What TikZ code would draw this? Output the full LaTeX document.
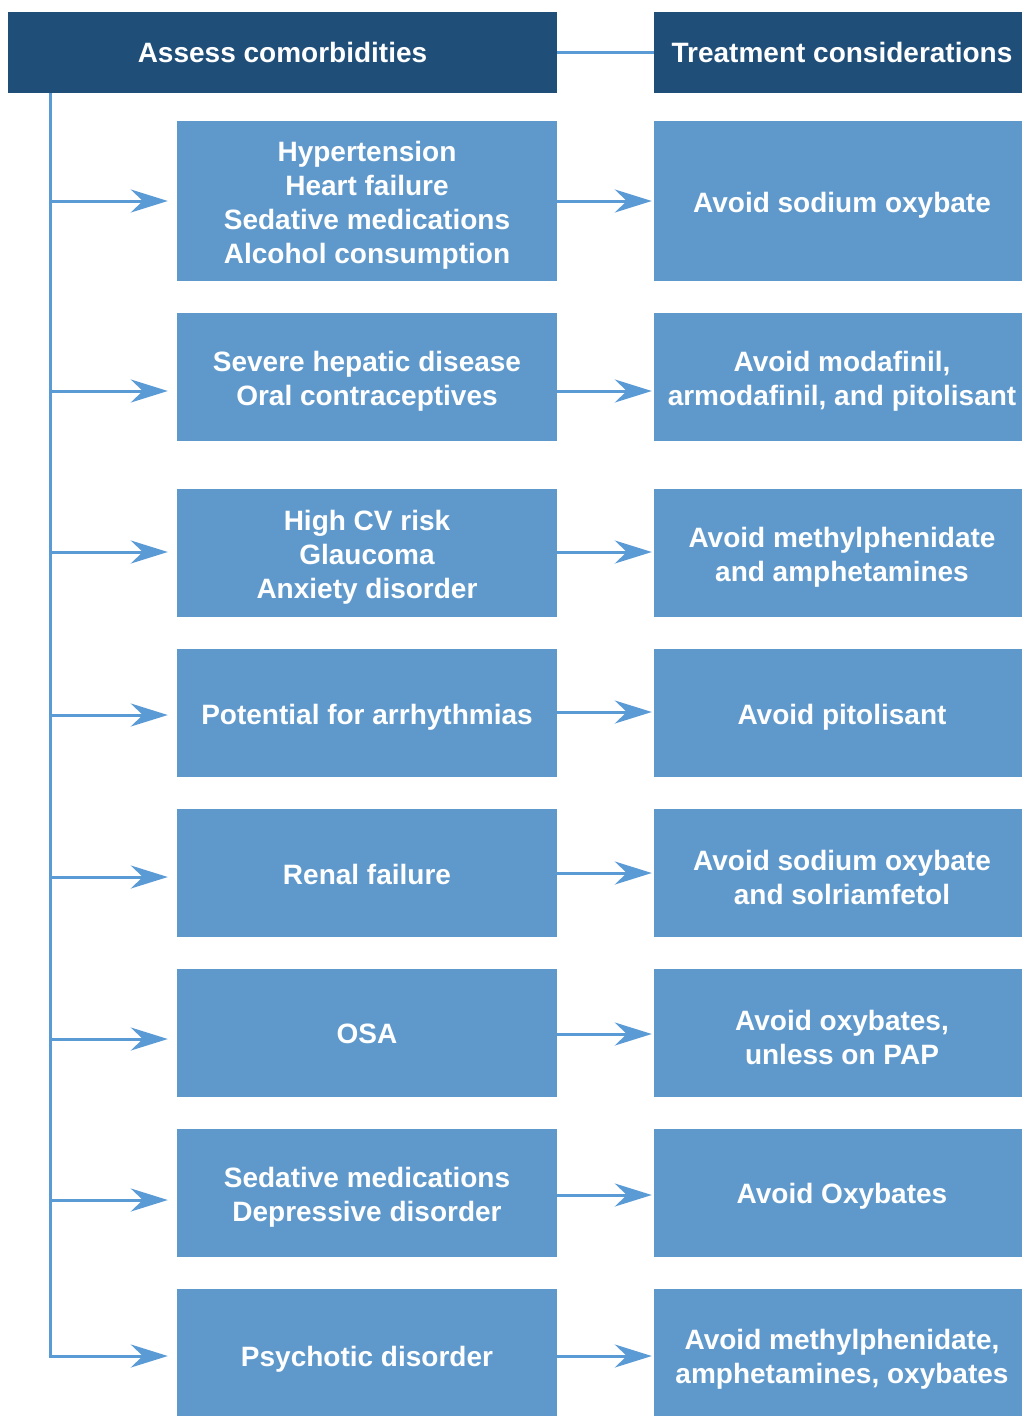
\documentclass[tikz,border=0pt]{standalone}
\usepackage{fontspec}
\setmainfont{Liberation Sans}
\usetikzlibrary{arrows.meta,calc}
\definecolor{darkb}{HTML}{1F4E79}
\definecolor{lightb}{HTML}{5F99CC}
\definecolor{lineb}{HTML}{5B9BD5}
\tikzset{
  x=1pt,y=-1pt,
  hdr/.style={fill=darkb,text=white,font=\fontsize{28}{34}\selectfont\bfseries,inner sep=0pt,minimum height=81pt,align=center},
  lbox/.style={fill=lightb,inner sep=0pt,minimum width=380pt},
  rbox/.style={fill=lightb,inner sep=0pt,minimum width=376pt},
  txt/.style={text=white,font=\fontsize{28}{34}\selectfont\bfseries,inner sep=0pt,align=center},
  conn/.style={draw=lineb,line width=3pt},
  arr/.style={conn,-{Stealth[length=37pt,width=23pt,inset=12pt]}}
}
\begin{document}
\begin{tikzpicture}
\useasboundingbox (0,0) rectangle (1022,1416);
\clip (0,0) rectangle (1022,1416);
\fill[white] (0,0) rectangle (1022,1416);
\node[hdr,minimum width=549pt] (hl) at (282.5,52.5) {Assess comorbidities};
\node[hdr,minimum width=376pt] (hr) at (842,52.5) {Treatment considerations};
% left boxes
\node[lbox,minimum height=160pt] (l1) at (367,201) {};
\node[lbox,minimum height=128pt] (l2) at (367,377) {};
\node[lbox,minimum height=128pt] (l3) at (367,553) {};
\node[lbox,minimum height=128pt] (l4) at (367,713) {};
\node[lbox,minimum height=128pt] (l5) at (367,873) {};
\node[lbox,minimum height=128pt] (l6) at (367,1033) {};
\node[lbox,minimum height=128pt] (l7) at (367,1193) {};
\node[lbox,minimum height=150pt] (l8) at (367,1364) {};
\node[txt] (l1t) at (367,205) {Hypertension\\Heart failure\\Sedative medications\\Alcohol consumption};
\node[txt] (l2t) at (367,381) {Severe hepatic disease\\Oral contraceptives};
\node[txt] (l3t) at (367,557) {High CV risk\\Glaucoma\\Anxiety disorder};
\node[txt] (l4t) at (367,717) {Potential for arrhythmias};
\node[txt] (l5t) at (367,874) {Renal failure};
\node[txt] (l6t) at (367,1034) {OSA};
\node[txt] (l7t) at (367,1197) {Sedative medications\\Depressive disorder};
\node[txt] (l8t) at (367,1359) {Psychotic disorder};
% right boxes
\node[rbox,minimum height=160pt] (r1) at (842,201) {};
\node[rbox,minimum height=128pt] (r2) at (842,377) {};
\node[rbox,minimum height=128pt] (r3) at (842,553) {};
\node[rbox,minimum height=128pt] (r4) at (842,713) {};
\node[rbox,minimum height=128pt] (r5) at (842,873) {};
\node[rbox,minimum height=128pt] (r6) at (842,1033) {};
\node[rbox,minimum height=128pt] (r7) at (842,1193) {};
\node[rbox,minimum height=150pt] (r8) at (842,1364) {};
\node[txt] (r1t) at (842,205) {Avoid sodium oxybate};
\node[txt] (r2t) at (842,381) {Avoid modafinil,\\armodafinil, and pitolisant};
\node[txt] (r3t) at (842,557) {Avoid methylphenidate\\and amphetamines};
\node[txt] (r4t) at (842,717) {Avoid pitolisant};
\node[txt] (r5t) at (842,877) {Avoid sodium oxybate\\and solriamfetol};
\node[txt] (r6t) at (842,1037) {Avoid oxybates,\\unless on PAP};
\node[txt] (r7t) at (842,1196) {Avoid Oxybates};
\node[txt] (r8t) at (842,1359) {Avoid methylphenidate,\\amphetamines, oxybates};
% trunk coordinates
\coordinate (t1) at (50,201);
\coordinate (t2) at (50,391);
\coordinate (t3) at (50,552);
\coordinate (t4) at (50,715);
\coordinate (t5) at (50,877);
\coordinate (t6) at (50,1039);
\coordinate (t7) at (50,1200);
\coordinate (t8) at (50,1356);
\coordinate (s1) at (557,201);
\coordinate (s2) at (557,391);
\coordinate (s3) at (557,552);
\coordinate (s4) at (557,712);
\coordinate (s5) at (557,873);
\coordinate (s6) at (557,1034);
\coordinate (s7) at (557,1195);
\coordinate (s8) at (557,1356);
% connectors
\draw[conn] (hl.east) -- (hr.west);
\draw[conn] (hl.south -| t1) -- (t8);
\foreach \i in {1,...,7}{
  \draw[arr,shorten >=9pt] (t\i) -- (t\i -| l\i.west);
  \draw[arr,shorten >=2pt] (s\i) -- (s\i -| r\i.west);
}
\draw[conn,line cap=butt] (t8) ++(-1.5,0) -- (t8);
\draw[arr,shorten >=9pt] (t8) ++(-1.5,0) -- (t8 -| l8.west);
\draw[arr,shorten >=2pt] (s8) -- (s8 -| r8.west);
\end{tikzpicture}
\end{document}
